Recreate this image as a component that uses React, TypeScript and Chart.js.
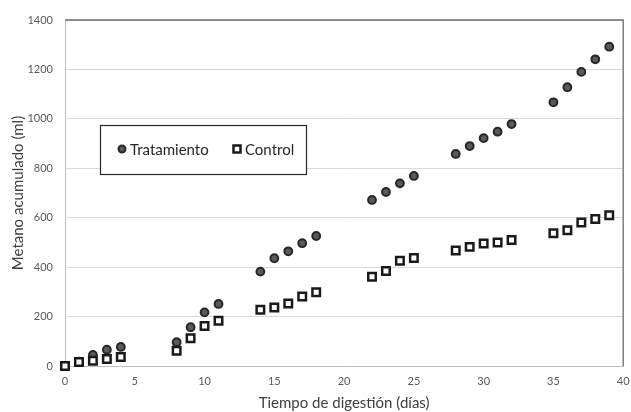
import React, { useEffect, useRef } from "react";
import { Chart, registerables } from "chart.js";

Chart.register(...registerables);

const days = [0, 1, 2, 3, 4, 8, 9, 10, 11, 14, 15, 16, 17, 18, 22, 23, 24, 25, 28, 29, 30, 31, 32, 35, 36, 37, 38, 39];
const tratamiento = [0, 18, 45, 66, 77, 96, 157, 217, 251, 382, 436, 464, 497, 526, 672, 704, 739, 769, 858, 890, 922, 948, 979, 1067, 1128, 1190, 1241, 1292];
const control = [0, 16, 21, 28, 36, 62, 112, 162, 183, 228, 237, 253, 281, 298, 361, 384, 426, 437, 467, 482, 496, 500, 510, 537, 549, 581, 595, 610];
const seriesLabels = ["Tratamiento", "Control"];
const xTitle = "Tiempo de digestión (días)";
const yTitle = "Metano acumulado (ml)";

const FONT = "Lato, 'Open Sans', sans-serif";

const framePlugin = {
  id: "frame",
  beforeDatasetsDraw(chart: any) {
    const { ctx, chartArea } = chart;
    ctx.save();
    ctx.strokeStyle = "#6b6b6b";
    ctx.lineWidth = 1.3;
    ctx.beginPath();
    ctx.moveTo(chartArea.left, chartArea.top);
    ctx.lineTo(chartArea.right, chartArea.top);
    ctx.lineTo(chartArea.right, chartArea.bottom);
    ctx.stroke();
    ctx.restore();
  },
};

const boxLegendPlugin = {
  id: "boxLegend",
  afterDraw(chart: any) {
    const { ctx, chartArea } = chart;
    const x0 = chartArea.left + 35;
    const y0 = chartArea.top + 105;
    const w = 206;
    const h = 49;
    ctx.save();
    ctx.fillStyle = "#ffffff";
    ctx.fillRect(x0, y0, w, h);
    ctx.strokeStyle = "#262626";
    ctx.lineWidth = 1.2;
    ctx.strokeRect(x0 + 0.5, y0 + 0.5, w, h);
    const cy = y0 + 25;
    ctx.font = "15px " + FONT;
    ctx.textBaseline = "middle";
    ctx.beginPath();
    ctx.arc(x0 + 22, cy - 1, 3.5, 0, Math.PI * 2);
    ctx.fillStyle = "#595959";
    ctx.fill();
    ctx.lineWidth = 2;
    ctx.strokeStyle = "#262626";
    ctx.stroke();
    ctx.fillStyle = "#262626";
    ctx.fillText(chart.data.datasets[0].label, x0 + 30, cy);
    ctx.fillStyle = "#ffffff";
    ctx.fillRect(x0 + 133.5, cy - 4.5, 7, 7);
    ctx.lineWidth = 2.5;
    ctx.strokeStyle = "#1a1a1a";
    ctx.strokeRect(x0 + 133.5, cy - 4.5, 7, 7);
    ctx.fillStyle = "#262626";
    ctx.fillText(chart.data.datasets[1].label, x0 + 145, cy);
    ctx.restore();
  },
};

export default function App() {
  const ref = useRef<HTMLCanvasElement>(null);
  useEffect(() => {
    if (!ref.current) return;
    const chart = new Chart(ref.current, {
      type: "scatter",
      data: {
        datasets: [
          {
            label: seriesLabels[0],
            data: days.map((d, i) => ({ x: d, y: tratamiento[i] })),
            pointStyle: "circle",
            pointRadius: 3.9,
            pointBorderWidth: 2,
            backgroundColor: "#5a5a5a",
            borderColor: "#262626",
            clip: false,
            order: 1,
          },
          {
            label: seriesLabels[1],
            data: days.map((d, i) => ({ x: d, y: control[i] })),
            pointStyle: "rect",
            pointRadius: 5.3,
            pointBorderWidth: 2.5,
            backgroundColor: "#ffffff",
            borderColor: "#1a1a1a",
            clip: false,
            order: 0,
          },
        ],
      },
      options: {
        animation: false,
        responsive: true,
        maintainAspectRatio: false,
        layout: { padding: { top: 20, right: 5, left: 0, bottom: 0 } },
        plugins: { legend: { display: false }, tooltip: { enabled: false } },
        scales: {
          x: {
            type: "linear",
            min: 0,
            max: 40,
            ticks: { stepSize: 5, padding: 9, color: "#595959", font: { family: FONT, size: 11 }, callback: (v: any) => String(v) },
            grid: { display: false, drawTicks: false },
            border: { display: true, color: "#bfbfbf", width: 1 },
            title: { display: true, text: xTitle, color: "#404040", font: { family: FONT, size: 15 }, padding: { top: 0, bottom: 0 } },
            afterFit: (s: any) => {
              s.height = 46;
              s.paddingLeft = 0;
              s.paddingRight = 0;
            },
          },
          y: {
            min: 0,
            max: 1400,
            ticks: { stepSize: 200, padding: 12, color: "#595959", font: { family: FONT, size: 11 }, callback: (v: any) => String(v) },
            grid: { color: "#d9d9d9", lineWidth: 1, drawTicks: false },
            border: { display: true, color: "#bfbfbf", width: 1 },
            title: { display: true, text: yTitle, color: "#404040", font: { family: FONT, size: 15 }, padding: { top: 9, bottom: 0 } },
            afterFit: (s: any) => {
              s.width = 65;
              s.paddingTop = 0;
              s.paddingBottom = 0;
            },
          },
        },
      },
      plugins: [framePlugin, boxLegendPlugin],
    } as any);
    return () => chart.destroy();
  }, []);
  return (
    <div style={{ position: "fixed", left: 0, top: 0, width: 631, height: 412, background: "#fff" }}>
      <canvas ref={ref} />
    </div>
  );
}
